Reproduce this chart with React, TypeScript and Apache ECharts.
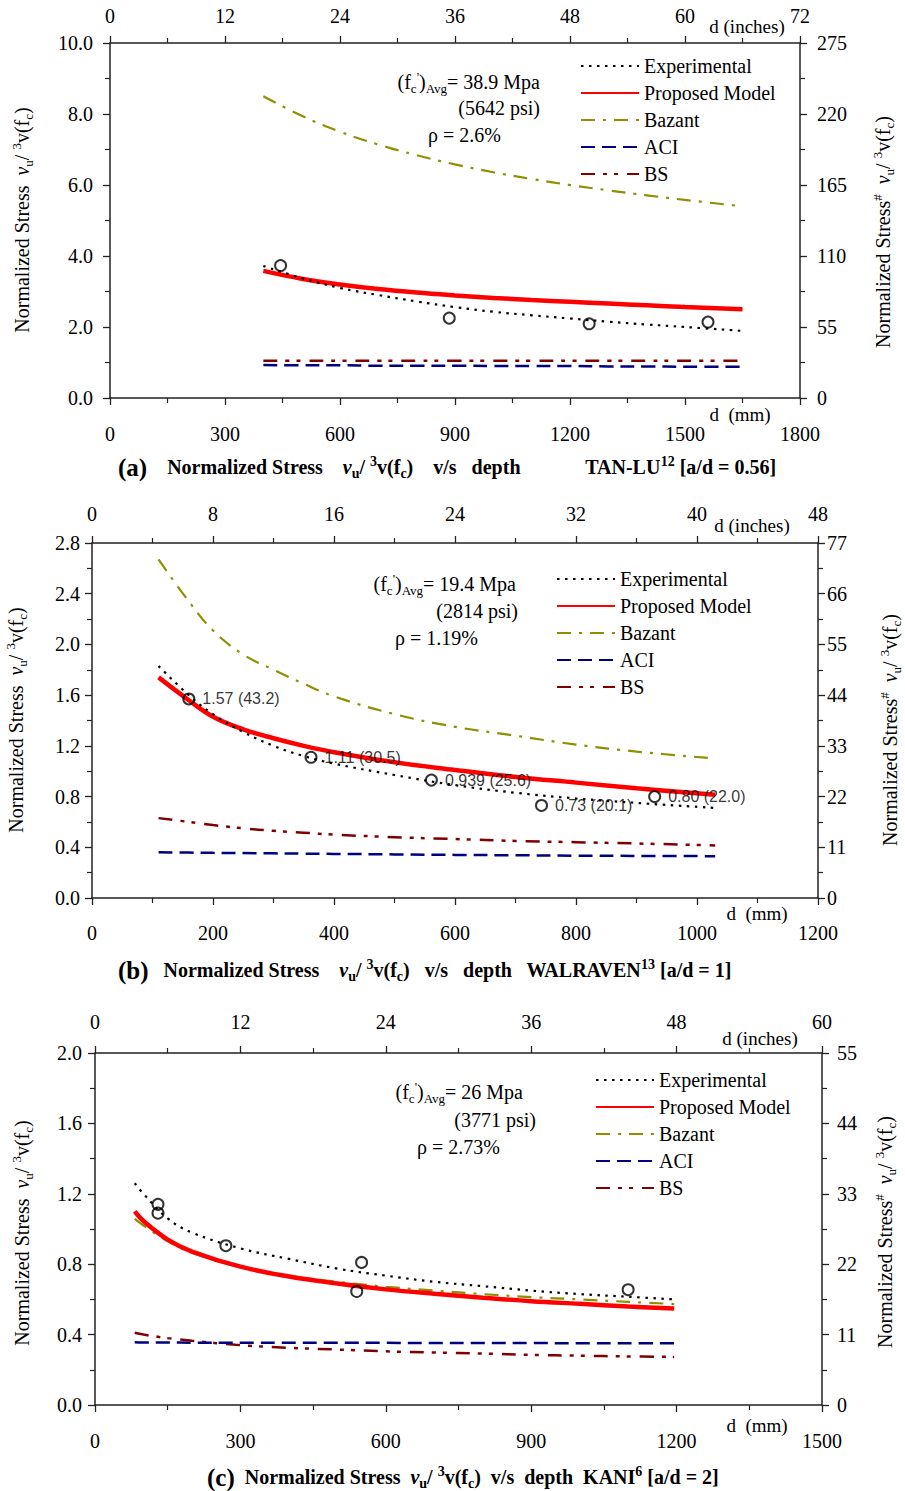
import React, { useEffect, useRef } from 'react';
import * as echarts from 'echarts';

// ---------- Panel (a): TAN-LU [a/d = 0.56] ----------
const aDepth = [400, 500, 600, 700, 800, 900, 1000, 1100, 1200, 1300, 1400, 1500, 1650];
const aExperimental = [3.72, 3.38, 3.1, 2.9, 2.72, 2.56, 2.43, 2.33, 2.24, 2.15, 2.07, 2.0, 1.89];
const aProposed = [3.58, 3.36, 3.2, 3.07, 2.97, 2.89, 2.82, 2.76, 2.71, 2.66, 2.61, 2.56, 2.5];
const aBazant = [8.5, 7.95, 7.5, 7.14, 6.84, 6.58, 6.36, 6.17, 6.0, 5.85, 5.71, 5.58, 5.4];
const aACI = [0.93, 0.92, 0.92, 0.91, 0.91, 0.91, 0.9, 0.9, 0.9, 0.89, 0.89, 0.88, 0.88];
const aBS = [1.05, 1.05, 1.05, 1.05, 1.05, 1.05, 1.05, 1.05, 1.05, 1.05, 1.05, 1.05, 1.05];
const aTestDepth = [445, 885, 1250, 1560];
const aTestStress = [3.73, 2.25, 2.09, 2.14];

// ---------- Panel (b): WALRAVEN [a/d = 1] ----------
const bDepth = [110, 160, 200, 250, 300, 350, 400, 500, 600, 700, 800, 900, 1030];
const bExperimental = [1.83, 1.6, 1.45, 1.31, 1.2, 1.12, 1.06, 0.97, 0.89, 0.83, 0.785, 0.75, 0.71];
const bProposed = [1.74, 1.56, 1.43, 1.33, 1.26, 1.2, 1.15, 1.07, 1.01, 0.955, 0.91, 0.865, 0.815];
const bBazant = [2.67, 2.34, 2.11, 1.92, 1.8, 1.69, 1.59, 1.45, 1.35, 1.28, 1.21, 1.155, 1.1];
const bACI = [0.36, 0.358, 0.356, 0.354, 0.352, 0.35, 0.348, 0.344, 0.34, 0.337, 0.334, 0.332, 0.33];
const bBS = [0.63, 0.6, 0.575, 0.55, 0.53, 0.515, 0.5, 0.48, 0.465, 0.45, 0.44, 0.43, 0.415];
const bTestDepth = [160, 362, 561, 743, 930];
const bTestStress = [1.57, 1.11, 0.93, 0.73, 0.8];
const bTestLabels = ['1.57 (43.2)', '1.11 (30.5)', '0.939 (25.6)', '0.73 (20.1)', '0.80 (22.0)'];

// ---------- Panel (c): KANI [a/d = 2] ----------
const cDepth = [82, 100, 150, 200, 300, 400, 500, 600, 700, 800, 900, 1000, 1100, 1195];
const cExperimental = [1.26, 1.2, 1.06, 0.98, 0.89, 0.83, 0.775, 0.735, 0.7, 0.675, 0.65, 0.63, 0.615, 0.6];
const cProposed = [1.1, 1.045, 0.94, 0.872, 0.786, 0.73, 0.69, 0.657, 0.632, 0.61, 0.59, 0.575, 0.56, 0.548];
const cBazant = [1.057, 1.02, 0.93, 0.865, 0.785, 0.735, 0.7, 0.672, 0.65, 0.63, 0.613, 0.6, 0.586, 0.574];
const cACI = [0.356, 0.355, 0.355, 0.354, 0.354, 0.353, 0.353, 0.353, 0.352, 0.352, 0.352, 0.351, 0.351, 0.351];
const cBS = [0.41, 0.4, 0.38, 0.365, 0.34, 0.325, 0.315, 0.305, 0.298, 0.292, 0.285, 0.28, 0.276, 0.273];
const cTestDepth = [130, 130, 270, 550, 540, 1100];
const cTestStress = [1.14, 1.09, 0.905, 0.81, 0.645, 0.655];

// axis ranges: [min, max, interval]
const aMm = [0, 1800, 300];
const aInch = [0, 72, 12];
const aLeft = [0, 10, 2];
const aRight = [0, 275, 55];
const bMm = [0, 1200, 200];
const bInch = [0, 48, 8];
const bLeft = [0, 2.8, 0.4];
const bRight = [0, 77, 11];
const cMm = [0, 1500, 300];
const cInch = [0, 60, 12];
const cLeft = [0, 2.0, 0.4];
const cRight = [0, 55, 11];

const legendNames = ['Experimental', 'Proposed Model', 'Bazant', 'ACI', 'BS'];

const SERIF = '"Liberation Serif", "Times New Roman", serif';
const SANS = '"Liberation Sans", Arial, sans-serif';

const pairs = (xs: number[], ys: number[]) => xs.map((x, i) => [x, ys[i]]);

const lineStyles: Record<string, any> = {
  Experimental: { color: '#000000', width: 2.2, type: [2.5, 5.5] },
  'Proposed Model': { color: '#ff0000', width: 4.5, type: 'solid' },
  Bazant: { color: '#8f8f00', width: 2.2, type: [14, 8, 3, 8] },
  ACI: { color: '#000080', width: 2.5, type: [14, 7] },
  BS: { color: '#800000', width: 2.5, type: [14, 8, 4, 7, 4, 9] },
};

const intFmt = (v: number) => String(Math.round(v * 100) / 100);

const axisCommon = (margin: number, fmt: (v: number) => string) => ({
  axisLine: { show: true, onZero: false, lineStyle: { color: '#222', width: 1.5 } },
  axisTick: { show: true, length: 7, inside: false, lineStyle: { color: '#222', width: 1.3 } },
  minorTick: { show: true, splitNumber: 2, length: 5, lineStyle: { color: '#222', width: 1.2 } },
  splitLine: { show: false },
  minorSplitLine: { show: false },
  axisLabel: {
    show: true,
    margin,
    fontFamily: SERIF,
    fontSize: 20,
    color: '#000',
    showMinLabel: true,
    showMaxLabel: true,
    formatter: fmt,
  },
});

interface PanelCfg {
  mm: number[];
  inch: number[];
  left: number[];
  right: number[];
  depth: number[];
  exp: number[];
  prop: number[];
  baz: number[];
  aci: number[];
  bs: number[];
  testD: number[];
  testS: number[];
  labels?: string[];
  margins: { bottom: number; top: number; left: number; right: number };
}

function buildPanel(k: number, c: PanelCfg) {
  const xb = k * 2;
  const yl = k * 2;
  const xAxis = [
    {
      type: 'value', gridIndex: k, position: 'bottom', min: c.mm[0], max: c.mm[1], interval: c.mm[2],
      ...axisCommon(c.margins.bottom, intFmt),
    },
    {
      type: 'value', gridIndex: k, position: 'top', min: c.inch[0], max: c.inch[1], interval: c.inch[2],
      ...axisCommon(c.margins.top, intFmt),
    },
  ];
  const yAxis = [
    {
      type: 'value', gridIndex: k, position: 'left', min: c.left[0], max: c.left[1], interval: c.left[2],
      ...axisCommon(c.margins.left, (v: number) => v.toFixed(1)),
    },
    {
      type: 'value', gridIndex: k, position: 'right', min: c.right[0], max: c.right[1], interval: c.right[2],
      ...axisCommon(c.margins.right, intFmt),
    },
  ];
  const mk = (name: string, ys: number[], z: number) => ({
    type: 'line',
    name,
    xAxisIndex: xb,
    yAxisIndex: yl,
    data: pairs(c.depth, ys),
    symbol: 'none',
    showSymbol: false,
    smooth: 0.4,
    lineStyle: lineStyles[name],
    itemStyle: { color: lineStyles[name].color },
    z,
    silent: true,
  });
  const series: any[] = [
    mk('BS', c.bs, 2),
    mk('ACI', c.aci, 2),
    mk('Bazant', c.baz, 3),
    mk('Proposed Model', c.prop, 4),
    mk('Experimental', c.exp, 5),
    {
      type: 'scatter',
      name: 'Test data',
      xAxisIndex: xb,
      yAxisIndex: yl,
      data: pairs(c.testD, c.testS),
      symbol: 'circle',
      symbolSize: 11,
      itemStyle: { color: 'rgba(0,0,0,0)', borderColor: '#000', borderWidth: 2 },
      z: 6,
      silent: true,
      label: c.labels
        ? {
            show: true,
            position: 'right',
            distance: 7,
            formatter: (p: any) => c.labels![p.dataIndex],
            fontFamily: SANS,
            fontSize: 16,
            color: '#000',
          }
        : { show: false },
    },
  ];
  return { xAxis, yAxis, series };
}

const rich: Record<string, any> = {
  n: { fontFamily: SERIF, fontSize: 20, fill: '#000' },
  i: { fontFamily: SERIF, fontSize: 20, fontStyle: 'italic', fill: '#000' },
  sub: { fontFamily: SERIF, fontSize: 13, fill: '#000', padding: [12, 0, 0, 0] },
  sup: { fontFamily: SERIF, fontSize: 13, fill: '#000', padding: [0, 0, 12, 0] },
  bb: { fontFamily: SERIF, fontSize: 25, fontWeight: 'bold', fill: '#000' },
  b: { fontFamily: SERIF, fontSize: 20, fontWeight: 'bold', fill: '#000' },
  bi: { fontFamily: SERIF, fontSize: 20, fontWeight: 'bold', fontStyle: 'italic', fill: '#000' },
  bsub: { fontFamily: SERIF, fontSize: 14, fontWeight: 'bold', fill: '#000', padding: [12, 0, 0, 0] },
  bsup: { fontFamily: SERIF, fontSize: 14, fontWeight: 'bold', fill: '#000', padding: [0, 0, 12, 0] },
};

const txt = (x: number, y: number, text: string, align = 'left', rotation = 0, size = 20) => ({
  type: 'text',
  x,
  y,
  rotation,
  silent: true,
  style: {
    text,
    rich,
    fontFamily: SERIF,
    fontSize: size,
    fill: '#000',
    textAlign: align,
    textVerticalAlign: 'middle',
  },
});

const leftTitle = '{n|Normalized Stress  }{i|ν}{sub|u}{n|/ }{sup|3}{n|v(f}{sub|c}{n|)}';
const rightTitle = '{n|Normalized Stress}{sup|#}{n|  }{i|ν}{sub|u}{n|/ }{sup|3}{n|v(f}{sub|c}{n|)}';
const fcText = (v: string) => `{n|(f}{sub|c}{sup|'}{n|)}{sub|Avg}{n|= ${v} Mpa}`;

const titleA =
  '{bb|(a)}{b|    Normalized Stress    }{bi|ν}{bsub|u}{b|/ }{bsup|3}{b|v(f}{bsub|c}{b|)    v/s   depth             TAN-LU}{bsup|12}{b| [a/d = 0.56]}';
const titleB =
  '{bb|(b)}{b|   Normalized Stress    }{bi|ν}{bsub|u}{b|/ }{bsup|3}{b|v(f}{bsub|c}{b|)   v/s   depth   WALRAVEN}{bsup|13}{b| [a/d = 1]}';
const titleC =
  '{bb|(c)}{b|  Normalized Stress  }{bi|ν}{bsub|u}{b|/ }{bsup|3}{b|v(f}{bsub|c}{b|)  v/s  depth  KANI}{bsup|6}{b| [a/d = 2]}';

export default function App() {
  const ref = useRef<HTMLDivElement>(null);
  useEffect(() => {
    if (!ref.current) return;
    const chart = echarts.init(ref.current, undefined, { renderer: 'svg' });
    const pa = buildPanel(0, {
      mm: aMm, inch: aInch, left: aLeft, right: aRight, depth: aDepth,
      exp: aExperimental, prop: aProposed, baz: aBazant, aci: aACI, bs: aBS,
      testD: aTestDepth, testS: aTestStress,
      margins: { bottom: 26, top: 17, left: 17, right: 17 },
    });
    const pb = buildPanel(1, {
      mm: bMm, inch: bInch, left: bLeft, right: bRight, depth: bDepth,
      exp: bExperimental, prop: bProposed, baz: bBazant, aci: bACI, bs: bBS,
      testD: bTestDepth, testS: bTestStress, labels: bTestLabels,
      margins: { bottom: 25, top: 19, left: 12, right: 9 },
    });
    const pc = buildPanel(2, {
      mm: cMm, inch: cInch, left: cLeft, right: cRight, depth: cDepth,
      exp: cExperimental, prop: cProposed, baz: cBazant, aci: cACI, bs: cBS,
      testD: cTestDepth, testS: cTestStress,
      margins: { bottom: 26, top: 21, left: 13, right: 15 },
    });
    const legendBase = {
      orient: 'vertical',
      itemWidth: 58,
      itemHeight: 14,
      itemGap: 7,
      data: legendNames,
      selectedMode: false,
      itemStyle: { opacity: 0 },
      textStyle: { fontFamily: SERIF, fontSize: 20, color: '#000' },
    };
    const option: any = {
      animation: false,
      backgroundColor: '#fff',
      grid: [
        { left: 110, top: 43, width: 690, height: 355, containLabel: false, outerBoundsMode: 'none' },
        { left: 92, top: 543, width: 726, height: 355, containLabel: false, outerBoundsMode: 'none' },
        { left: 95, top: 1053, width: 727, height: 352, containLabel: false, outerBoundsMode: 'none' },
      ],
      xAxis: [...pa.xAxis, ...pb.xAxis, ...pc.xAxis],
      yAxis: [...pa.yAxis, ...pb.yAxis, ...pc.yAxis],
      series: [...pa.series, ...pb.series, ...pc.series],
      legend: [
        { ...legendBase, left: 575, top: 51 },
        { ...legendBase, left: 551, top: 564 },
        { ...legendBase, left: 590, top: 1065 },
      ],
      graphic: [
        // panel (a)
        txt(540, 82, fcText('38.9'), 'right'),
        txt(540, 108, '(5642 psi)', 'right'),
        txt(428, 135, 'ρ = 2.6%', 'left'),
        txt(747, 26, 'd (inches)', 'center', 0, 19),
        txt(740, 414, 'd  (mm)', 'center', 0, 19),
        txt(22, 220, leftTitle, 'center', Math.PI / 2),
        txt(883, 232, rightTitle, 'center', Math.PI / 2),
        txt(118, 467, titleA, 'left'),
        // panel (b)
        txt(516, 584, fcText('19.4'), 'right'),
        txt(518, 611, '(2814 psi)', 'right'),
        txt(395, 638, 'ρ = 1.19%', 'left'),
        txt(752, 525, 'd (inches)', 'center', 0, 19),
        txt(757, 913, 'd  (mm)', 'center', 0, 19),
        txt(16, 720, leftTitle, 'center', Math.PI / 2),
        txt(890, 730, rightTitle, 'center', Math.PI / 2),
        txt(118, 970, titleB, 'left'),
        // panel (c)
        txt(523, 1092, fcText('26'), 'right'),
        txt(536, 1120, '(3771 psi)', 'right'),
        txt(417, 1147, 'ρ = 2.73%', 'left'),
        txt(760, 1038, 'd (inches)', 'center', 0, 19),
        txt(757, 1425, 'd  (mm)', 'center', 0, 19),
        txt(22, 1233, leftTitle, 'center', Math.PI / 2),
        txt(885, 1232, rightTitle, 'center', Math.PI / 2),
        txt(207, 1477, titleC, 'left'),
      ],
    };
    chart.setOption(option);
    return () => chart.dispose();
  }, []);
  return (
    <div
      ref={ref}
      style={{ position: 'absolute', left: 0, top: 0, width: 905, height: 1491, background: '#fff' }}
    />
  );
}
